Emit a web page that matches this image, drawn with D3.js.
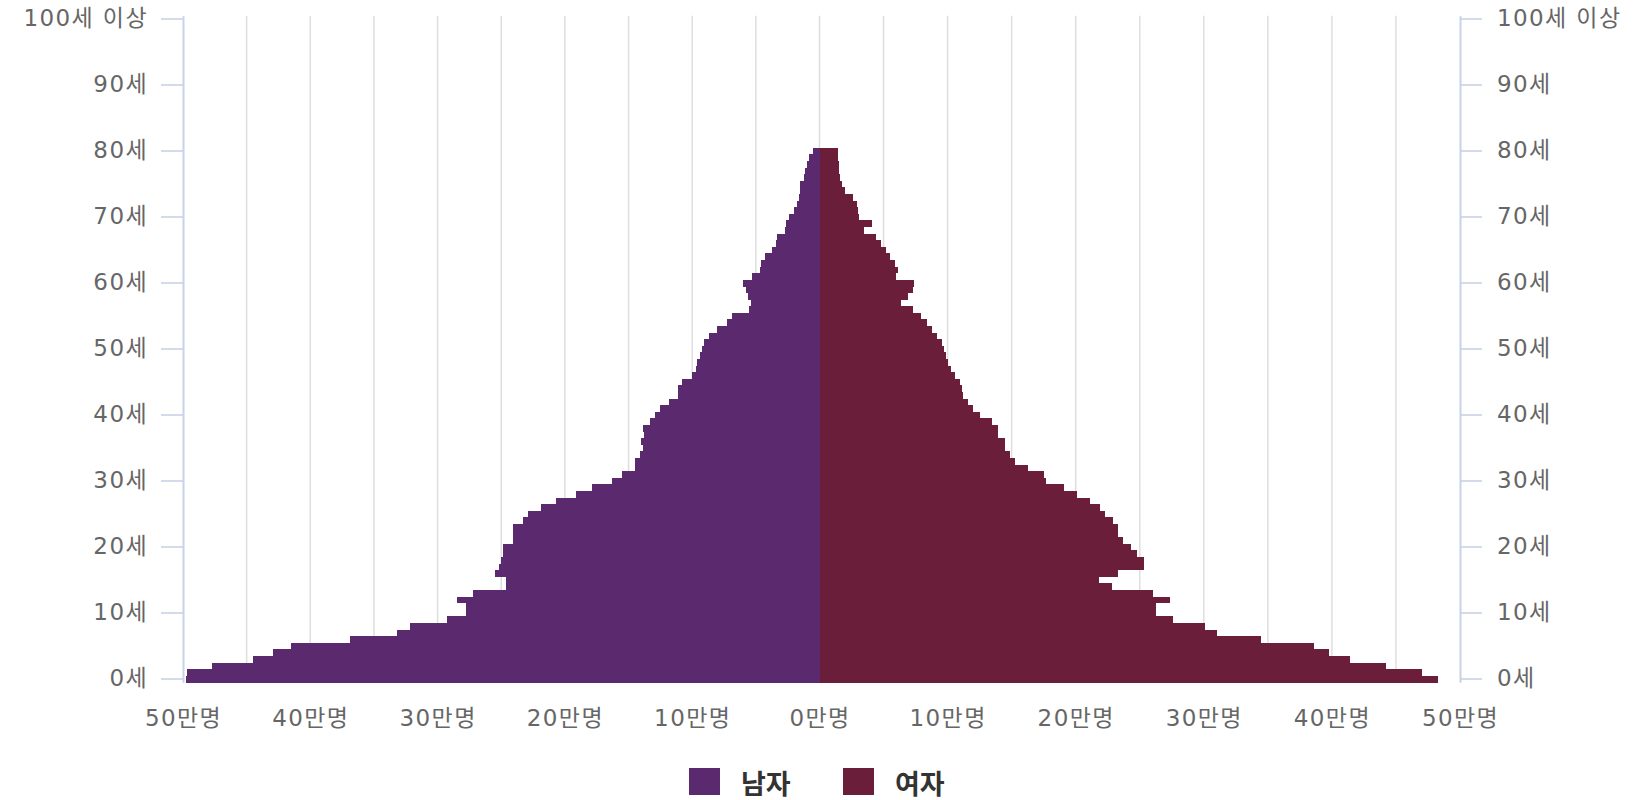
<!DOCTYPE html>
<html lang="ko">
<head>
<meta charset="utf-8">
<script src="https://cdn.jsdelivr.net/npm/d3@7"></script>
<style>
  html, body { margin: 0; padding: 0; background: #fff; }
  svg { display: block; font-family: "Noto Sans CJK KR", "Noto Sans", sans-serif; }
</style>
</head>
<body>
<svg id="chart" width="1638" height="800"></svg>
<script>
// --- data (만명) ---
const ages = [
  0, 1, 2, 3, 4, 5, 6, 7, 8, 9, 10, 11, 12, 13, 14, 15, 16, 17, 18, 19,
  20, 21, 22, 23, 24, 25, 26, 27, 28, 29, 30, 31, 32, 33, 34, 35, 36, 37, 38, 39,
  40, 41, 42, 43, 44, 45, 46, 47, 48, 49, 50, 51, 52, 53, 54, 55, 56, 57, 58, 59,
  60, 61, 62, 63, 64, 65, 66, 67, 68, 69, 70, 71, 72, 73, 74, 75, 76, 77, 78, 79,
  80, 81, 82, 83, 84, 85, 86, 87, 88, 89, 90, 91, 92, 93, 94, 95, 96, 97, 98, 99, 100
];

const male = [
  49.8, 49.7, 47.7, 44.5, 42.9, 41.5, 36.9, 33.2, 32.2, 29.3,
  27.8, 27.8, 28.5, 27.2, 24.6, 24.6, 25.5, 25.2, 25.0, 24.9,
  24.9, 24.1, 24.1, 24.1, 23.3, 22.9, 21.9, 20.7, 19.1, 17.9,
  16.3, 15.5, 14.5, 14.5, 14.1, 13.9, 14.0, 13.8, 13.9, 13.3,
  12.9, 12.5, 11.8, 11.1, 11.1, 10.8, 10.0, 9.7, 9.6, 9.4,
  9.2, 9.1, 8.7, 8.05, 7.3, 6.9, 5.5, 5.4, 5.6, 5.8,
  6.0, 5.3, 4.7, 4.6, 4.3, 3.7, 3.45, 3.35, 2.7, 2.6,
  2.4, 2.0, 1.75, 1.6, 1.55, 1.5, 1.25, 1.15, 1.0, 0.8,
  0.5, 0, 0, 0, 0, 0, 0, 0, 0, 0,
  0, 0, 0, 0, 0, 0, 0, 0, 0, 0, 0
];

const female = [
  48.3, 47.0, 44.2, 41.4, 39.8, 38.6, 34.5, 31.0, 30.1, 27.6,
  26.3, 26.3, 27.4, 26.0, 22.8, 21.8, 23.3, 25.3, 25.3, 24.8,
  24.3, 23.7, 23.3, 23.3, 22.9, 22.3, 21.9, 21.1, 20.1, 19.1,
  17.7, 17.5, 16.3, 15.3, 14.9, 14.5, 14.5, 13.9, 13.9, 13.5,
  12.5, 12.0, 11.6, 11.2, 11.1, 11.0, 10.6, 10.3, 10.0, 9.9,
  9.7, 9.55, 9.2, 8.8, 8.4, 7.9, 7.3, 6.4, 6.9, 7.3,
  7.35, 6.0, 6.1, 5.9, 5.5, 5.2, 4.8, 4.4, 3.5, 4.1,
  3.1, 3.0, 2.9, 2.65, 2.0, 1.75, 1.6, 1.55, 1.5, 1.42,
  1.42, 0, 0, 0, 0, 0, 0, 0, 0, 0,
  0, 0, 0, 0, 0, 0, 0, 0, 0, 0, 0
];

const ageTicks = [0, 10, 20, 30, 40, 50, 60, 70, 80, 90, 100];
const ageTickLabels = ["0세", "10세", "20세", "30세", "40세", "50세", "60세", "70세", "80세", "90세", "100세 이상"];
const valueTicks = [-50, -40, -30, -20, -10, 0, 10, 20, 30, 40, 50];
const gridTicks = [-45, -40, -35, -30, -25, -20, -15, -10, -5, 0, 5, 10, 15, 20, 25, 30, 35, 40, 45];
const seriesNames = ["남자", "여자"];
const seriesColors = ["#5b2a6e", "#6a1e3a"];

// --- layout ---
const plot = { left: 183, center: 819.5, right: 1460, top: 15.7, bottom: 682.3 };
const labelFont = '"DejaVu Sans", "Noto Sans CJK KR", sans-serif';
const svg = d3.select("#chart");

const x = d3.scaleLinear().domain([-50, 0, 50]).range([plot.left, plot.center, plot.right]);
const y = d3.scaleBand().domain(ages).range([plot.bottom, plot.top]).padding(0);

const rows = ages.map((a, i) => ({ age: a, male: male[i], female: female[i] }));

// gridlines
svg.append("g").selectAll("line")
  .data(gridTicks)
  .join("line")
  .attr("x1", d => x(d))
  .attr("x2", d => x(d))
  .attr("y1", plot.top)
  .attr("y2", plot.bottom)
  .attr("stroke", "#dedede")
  .attr("stroke-width", 1.5);

// bars
const bars = svg.append("g").attr("shape-rendering", "crispEdges");
bars.selectAll(".male")
  .data(rows.filter(d => d.male > 0))
  .join("rect")
  .attr("class", "male")
  .attr("x", d => x(-d.male))
  .attr("y", d => y(d.age))
  .attr("width", d => x(0) - x(-d.male))
  .attr("height", y.bandwidth() + 0.3)
  .attr("fill", seriesColors[0]);

bars.selectAll(".female")
  .data(rows.filter(d => d.female > 0))
  .join("rect")
  .attr("class", "female")
  .attr("x", x(0))
  .attr("y", d => y(d.age))
  .attr("width", d => x(d.female) - x(0))
  .attr("height", y.bandwidth() + 0.3)
  .attr("fill", seriesColors[1]);

// age axes (left and right)
const labelFor = d => ageTickLabels[ageTicks.indexOf(d)];

const leftAxis = svg.append("g")
  .attr("transform", `translate(${plot.left},0)`)
  .call(d3.axisLeft(y).tickValues(ageTicks).tickFormat(labelFor)
    .tickSizeInner(22).tickSizeOuter(0).tickPadding(13));

const rightAxis = svg.append("g")
  .attr("transform", `translate(${plot.right},0)`)
  .call(d3.axisRight(y).tickValues(ageTicks).tickFormat(labelFor)
    .tickSizeInner(22).tickSizeOuter(0).tickPadding(15));

[leftAxis, rightAxis].forEach(g => {
  g.select(".domain").attr("stroke", "#c8d3e6").attr("stroke-width", 2);
  g.selectAll(".tick line").attr("stroke", "#c8d3e6").attr("stroke-width", 1.6);
  g.selectAll(".tick text")
    .attr("fill", "#666666")
    .style("font-size", "23px")
    .style("letter-spacing", "1.4px")
    .style("font-family", labelFont);
});

// value axis (bottom)
const bottomAxis = svg.append("g")
  .attr("transform", `translate(0,${plot.bottom})`)
  .call(d3.axisBottom(x).tickValues(valueTicks)
    .tickFormat(d => Math.abs(d) + "만명")
    .tickSize(0).tickPadding(27));
bottomAxis.select(".domain").remove();
bottomAxis.selectAll(".tick text")
  .attr("fill", "#666666")
  .style("font-size", "23px")
  .style("letter-spacing", "1.4px")
  .style("font-family", labelFont);

// legend
const legendItems = [
  { name: seriesNames[0], color: seriesColors[0], x: 689 },
  { name: seriesNames[1], color: seriesColors[1], x: 843 }
];
const legend = svg.append("g");
const item = legend.selectAll("g")
  .data(legendItems)
  .join("g")
  .attr("transform", d => `translate(${d.x},768)`);
item.append("rect")
  .attr("width", 31)
  .attr("height", 27)
  .attr("fill", d => d.color);
item.append("text")
  .attr("x", 52)
  .attr("y", 14)
  .attr("dominant-baseline", "central")
  .attr("fill", "#333333")
  .style("font-size", "27px")
  .style("font-weight", "bold")
  .text(d => d.name);
</script>
</body>
</html>
